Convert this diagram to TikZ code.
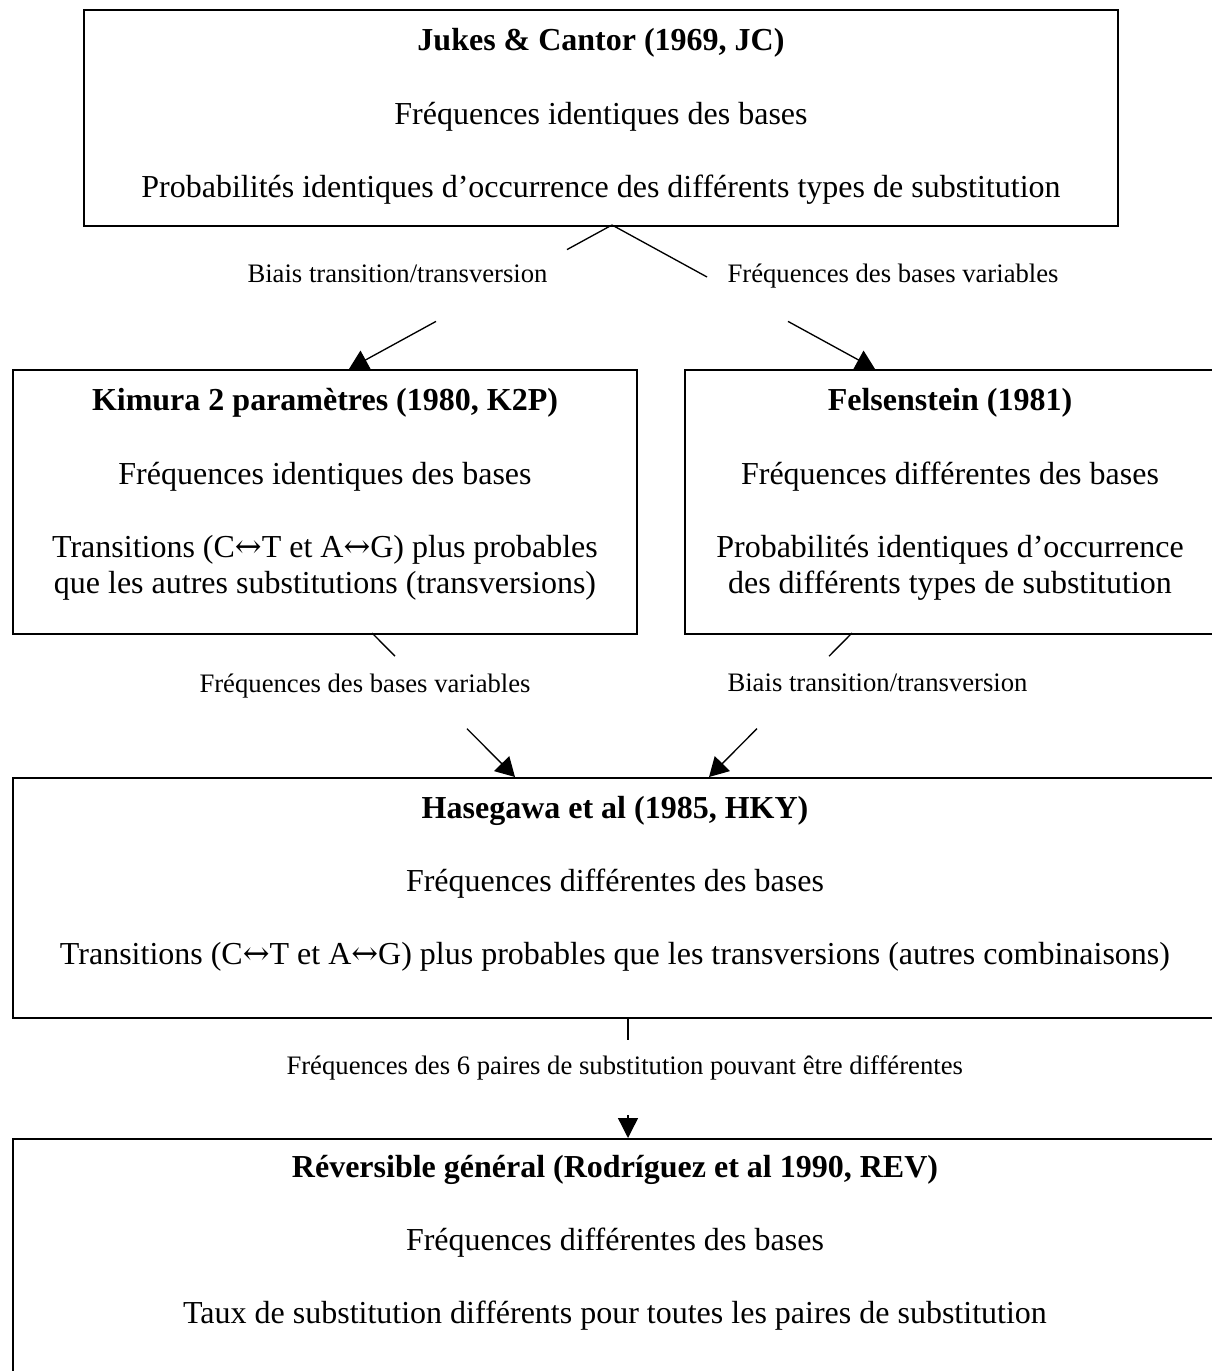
\documentclass[tikz,border=0pt]{standalone}
\usepackage{fontspec}
\setmainfont{Liberation Serif}
\newfontfamily\arrowfont{DejaVu Serif}
\newcommand{\lrarr}{{\arrowfont ↔}}
\usetikzlibrary{arrows.meta}
\newcommand{\boxtext}[4]{\parbox[t][#2][t]{#1}{\centering\fontsize{12pt}{13.69pt}\selectfont\rule{0pt}{#3}#4}}
\tikzset{
  modelbox/.style={draw, line width=0.75pt, fill=white, inner sep=0pt, anchor=north west},
  conn/.style={line width=0.5pt},
  arr/.style={conn, -{Triangle[length=7.1pt,width=7.9pt]}},
  varr/.style={conn, -{Triangle[length=7.5pt,width=7.5pt]}},
  lbl/.style={inner sep=0pt, anchor=base west, font=\fontsize{10pt}{12pt}\selectfont}
}
\begin{document}
\begin{tikzpicture}[x=0.375pt, y=-0.375pt]
\useasboundingbox (0,0) rectangle (1211,1371);
\fill[white] (0,0) rectangle (1211,1371);

% boxes
\node[modelbox] (jc) at (83,9) {\boxtext{387.75pt}{81pt}{15.375pt}{%
  \textbf{Jukes \& Cantor (1969, JC)}\\[13.69pt]
  Fréquences identiques des bases\\[13.69pt]
  Probabilités identiques d’occurrence des différents types de substitution}};
\node[modelbox] (k2p) at (12,369) {\boxtext{234pt}{99pt}{15.375pt}{%
  \textbf{Kimura 2 paramètres (1980, K2P)}\\[13.69pt]
  Fréquences identiques des bases\\[13.69pt]
  Transitions (C\lrarr T et A\lrarr G) plus probables\\
  que les autres substitutions (transversions)}};
\node[modelbox] (fel) at (684,369) {\boxtext{198.75pt}{99pt}{15.375pt}{%
  \textbf{Felsenstein (1981)}\\[13.69pt]
  Fréquences différentes des bases\\[13.69pt]
  Probabilités identiques d’occurrence\\
  des différents types de substitution}};
\node[modelbox] (hky) at (12,777) {\boxtext{451.5pt}{90pt}{15pt}{%
  \textbf{Hasegawa et al (1985, HKY)}\\[13.69pt]
  Fréquences différentes des bases\\[13.69pt]
  Transitions (C\lrarr T et A\lrarr G) plus probables que les transversions (autres combinaisons)}};
\node[modelbox] (rev) at (12,1138) {\boxtext{451.5pt}{98.25pt}{14.6pt}{%
  \textbf{Réversible général (Rodríguez et al 1990, REV)}\\[13.69pt]
  Fréquences différentes des bases\\[13.69pt]
  Taux de substitution différents pour toutes les paires de substitution}};

% connector end points
\coordinate (jcout) at (612,225);
\coordinate (k2pin) at (349,369);
\coordinate (felin) at (875,369);
\coordinate (k2pout) at (372,633);
\coordinate (felout) at (852,633);
\coordinate (hkyinL) at (515,777);
\coordinate (hkyinR) at (709,777);
\coordinate (hkyout) at (628,1017);
\coordinate (revin) at (628,1138);
% break points (where the labels interrupt the lines)
\coordinate (b1a) at (567,249.6);
\coordinate (b1b) at (436,321.4);
\coordinate (b2a) at (707,277);
\coordinate (b2b) at (788,321.4);
\coordinate (b3a) at (395,656.2);
\coordinate (b3b) at (467,728.7);
\coordinate (b4a) at (829,656.2);
\coordinate (b4b) at (757,728.6);
\coordinate (b5a) at (628,1040);
\coordinate (b5b) at (628,1115);

% connectors
\draw[conn] (jcout) -- (b1a);
\draw[arr] (b1b) -- (k2pin);
\draw[conn] (jcout) -- (b2a);
\draw[arr] (b2b) -- (felin);
\draw[conn] (k2pout) -- (b3a);
\draw[arr] (b3b) -- (hkyinL);
\draw[conn] (felout) -- (b4a);
\draw[arr] (b4b) -- (hkyinR);
\draw[conn] (hkyout) -- (b5a);
\draw[varr] (b5b) -- (revin);

% labels
\node[lbl] (l1) at (247,283) {Biais transition/transversion};
\node[lbl] (l2) at (727,283) {Fréquences des bases variables};
\node[lbl] (l3) at (199,692) {Fréquences des bases variables};
\node[lbl] (l4) at (727,691) {Biais transition/transversion};
\node[lbl] (l5) at (286,1074) {Fréquences des 6 paires de substitution pouvant être différentes};
\end{tikzpicture}
\end{document}
